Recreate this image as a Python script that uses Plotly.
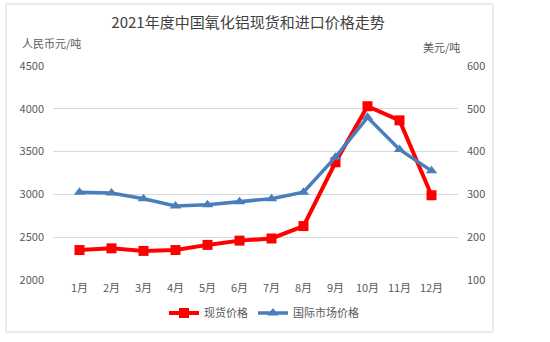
import plotly.graph_objects as go

# 2021 monthly alumina prices
months = ["1月", "2月", "3月", "4月", "5月", "6月", "7月", "8月", "9月", "10月", "11月", "12月"]
spot_cny = [2350, 2370, 2340, 2350, 2410, 2460, 2485, 2630, 3375, 4030, 3865, 2990]   # 元/吨
intl_usd = [305, 303, 290, 273, 276, 283, 290, 305, 387, 480, 405, 355]                # 美元/吨

left_ticks = [2000, 2500, 3000, 3500, 4000, 4500]
right_ticks = [100, 200, 300, 400, 500, 600]

FONT = "Noto Sans CJK SC"
GRAY = "#595959"

# plot area in pixels
W, H = 550, 342
L, R, T, B = 53, 458, 66, 280


def px(x):
    return (x - L) / (R - L)


def py(y):
    return (B - y) / (B - T)


fig = go.Figure()
fig.add_trace(go.Scatter(
    x=months, y=spot_cny, name="现货价格", mode="lines+markers",
    line=dict(color="#ff0000", width=4),
    marker=dict(symbol="square", size=10, color="#ff0000"),
    yaxis="y",
))
fig.add_trace(go.Scatter(
    x=months, y=intl_usd, name="国际市场价格", mode="lines+markers",
    line=dict(color="#4a7ebb", width=3.5),
    marker=dict(symbol="triangle-up", size=10, color="#4a7ebb"),
    yaxis="y2",
))

fig.update_layout(
    width=W, height=H,
    margin=dict(l=L, r=W - R, t=T, b=H - B),
    paper_bgcolor="white", plot_bgcolor="white",
    font=dict(family=FONT, size=11, color=GRAY),
    title=dict(text="2021年度中国氧化铝现货和进口价格走势",
               x=px(248), xref="paper", xanchor="center",
               y=1 - 23 / H, yanchor="middle",
               font=dict(family=FONT, size=15, color="#404040")),
    xaxis=dict(showgrid=False, showline=False, zeroline=False,
               ticks="", tickfont=dict(size=11, color=GRAY)),
    yaxis=dict(range=[2000, 4500], tickvals=left_ticks, showgrid=True,
               gridcolor="#d9d9d9", gridwidth=1, zeroline=False, showline=False,
               tickfont=dict(size=11, color=GRAY), ticks="", ticklabelstandoff=8),
    yaxis2=dict(range=[100, 600], tickvals=right_ticks, overlaying="y", side="right",
                showgrid=False, zeroline=False, showline=False,
                tickfont=dict(size=11, color=GRAY), ticks="", ticklabelstandoff=8),
    showlegend=True,
    legend=dict(orientation="h", x=px(264), xanchor="center", y=py(313), yanchor="middle",
                font=dict(size=11, color=GRAY), bgcolor="rgba(0,0,0,0)",
                itemwidth=30, tracegroupgap=0),
    shapes=[dict(type="rect", xref="paper", yref="paper",
                 x0=px(6), x1=px(493), y0=py(332), y1=py(4),
                 line=dict(color="#d9d9d9", width=1), fillcolor="rgba(0,0,0,0)",
                 layer="below")],
    annotations=[
        dict(text="人民币元/吨", xref="paper", yref="paper", x=px(20), y=py(43),
             xanchor="left", yanchor="middle", showarrow=False,
             font=dict(size=11, color=GRAY)),
        dict(text="美元/吨", xref="paper", yref="paper", x=px(462), y=py(47),
             xanchor="right", yanchor="middle", showarrow=False,
             font=dict(size=11, color=GRAY)),
    ],
)

fig.write_html("out.html")
